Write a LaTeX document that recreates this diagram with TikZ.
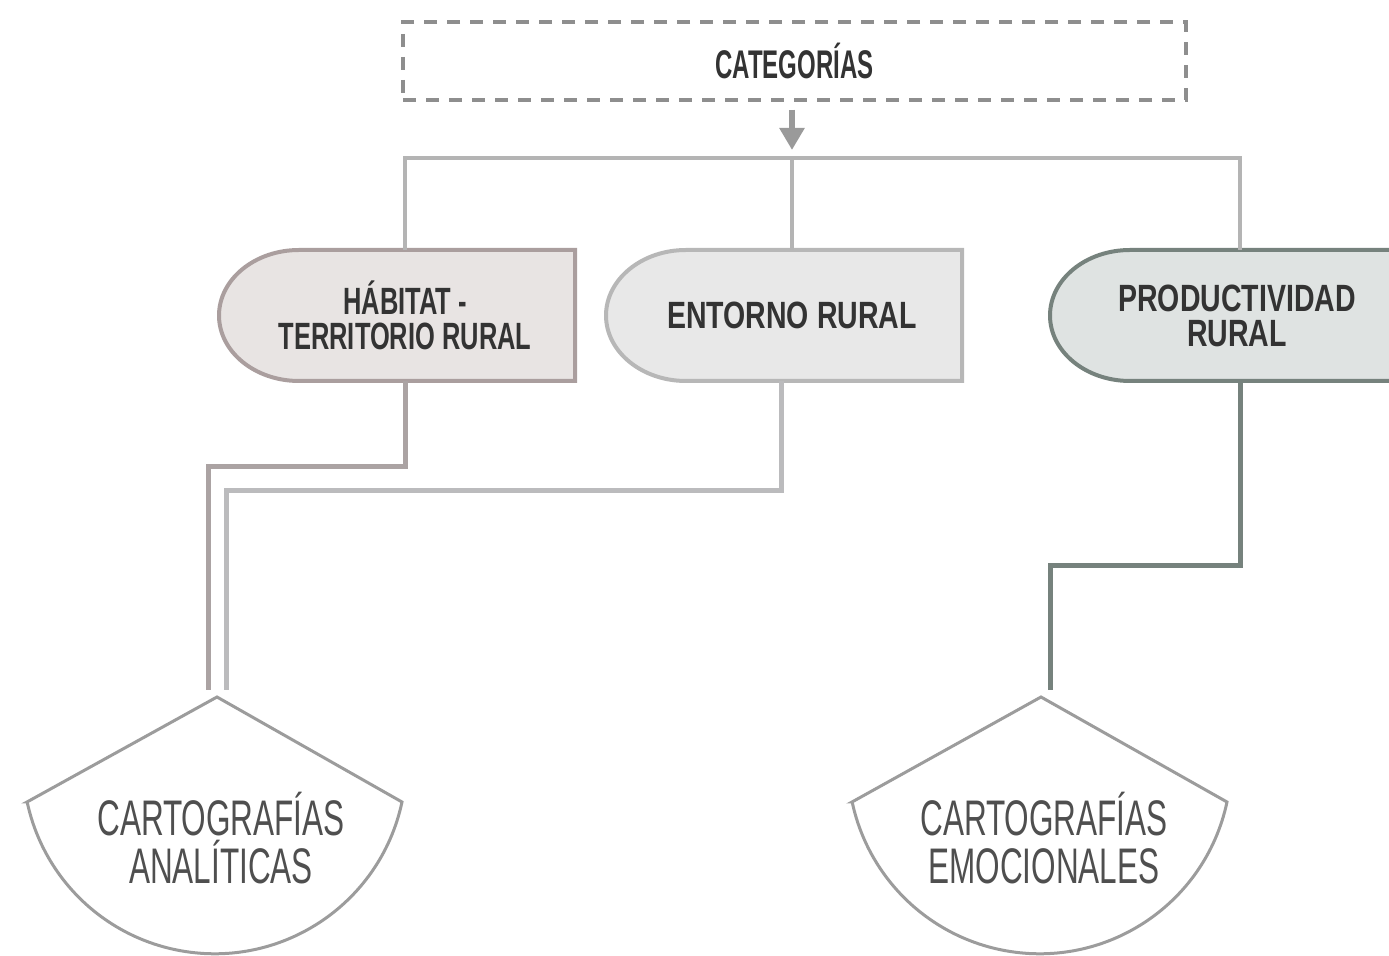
\documentclass[tikz,border=0pt]{standalone}
\usepackage{fontspec}
\setmainfont{Liberation Sans}
\newfontfamily\headfont[FakeStretch=0.67]{Liberation Sans Bold}
\newfontfamily\wideheadfont[FakeStretch=0.75]{Liberation Sans Bold}
\newfontfamily\catfont[FakeStretch=0.6]{Liberation Sans Bold}
\newfontfamily\bodyfont[FakeStretch=0.63]{Liberation Sans}
\usetikzlibrary{arrows.meta,backgrounds}
\definecolor{dashgray}{HTML}{8E8E8E}
\definecolor{textdark}{HTML}{333333}
\definecolor{textmid}{HTML}{4F4F4F}
\definecolor{busgray}{HTML}{B4B4B4}
\definecolor{arrgray}{HTML}{9A9A9A}
\definecolor{habfill}{HTML}{E8E4E3}
\definecolor{habdraw}{HTML}{AA9E9E}
\definecolor{entfill}{HTML}{E8E8E8}
\definecolor{entdraw}{HTML}{B7B7B7}
\definecolor{prodfill}{HTML}{DFE3E2}
\definecolor{proddraw}{HTML}{76827D}
\definecolor{habline}{HTML}{ABA3A3}
\definecolor{entline}{HTML}{BBBBBD}
\definecolor{shielddraw}{HTML}{9C9C9C}
\tikzset{
  catbox/.style={draw=dashgray, line width=1.6pt, dash pattern=on 6.5pt off 5pt,
    minimum width=391.5pt, minimum height=39pt, inner sep=0pt,
    font=\catfont\fontsize{20}{20}\selectfont, text=textdark},
  tab/.style={align=center, minimum height=65.5pt, inner sep=0pt,
    font=\headfont\fontsize{19}{17.5}\selectfont, text=textdark},
  widetab/.style={tab, font=\wideheadfont\fontsize{19}{17.5}\selectfont},
  tabshape/.style={line width=2pt},
  btext/.style={align=center, inner sep=0pt,
    font=\bodyfont\fontsize{25}{24}\selectfont, text=textmid},
  shield/.style={draw=shielddraw, line width=1.5pt, fill=white},
  bus/.style={draw=busgray, line width=2pt},
  arr/.style={draw=arrgray, line width=3pt, -{Triangle[width=12pt,length=11pt]}},
  wire/.style={line width=2.5pt}
}
\begin{document}
\begin{tikzpicture}[x=0.5pt,y=-0.5pt]
\useasboundingbox (0,0) rectangle (1389,956);
\clip (0,0) rectangle (1389,956);

% top category box
\node[catbox] (cat) at (794.5,61) {CATEGORÍAS};

% tab nodes
\node[tab] (hab) at (405,315.5) {HÁBITAT -\\TERRITORIO RURAL};
\node[widetab] (ent) at (792,315.5) {ENTORNO RURAL};
\node[widetab] (prod) at (1237,315.5) {PRODUCTIVIDAD\\RURAL};

\begin{scope}[on background layer]
  \draw[tabshape, fill=habfill, draw=habdraw]
    (575,250) -- (299,250) .. controls (254.8,250) and (219,279.3) .. (219,315.5)
    .. controls (219,351.7) and (254.8,381) .. (299,381) -- (575,381) -- cycle;
  \draw[tabshape, fill=entfill, draw=entdraw]
    (962,250) -- (686,250) .. controls (641.8,250) and (606,279.3) .. (606,315.5)
    .. controls (606,351.7) and (641.8,381) .. (686,381) -- (962,381) -- cycle;
  \draw[tabshape, fill=prodfill, draw=proddraw]
    (1420,250) -- (1130,250) .. controls (1085.8,250) and (1050,279.3) .. (1050,315.5)
    .. controls (1050,351.7) and (1085.8,381) .. (1130,381) -- (1420,381) -- cycle;
\end{scope}

% bus and arrow
\coordinate (bus) at (792,158);
\draw[bus] (hab.north) |- (bus) -| ([xshift=1.5pt]prod.north);
\draw[bus] (bus) -- (ent.north);
\draw[arr] ([yshift=-4pt]cat.south -| bus) -- ([yshift=4pt]bus);

% bottom shapes
\coordinate (anaTop) at (217,697);
\coordinate (emoTop) at (1041,697);
\draw[shield] (27,802) -- (anaTop) -- (402,802)
  arc[start angle=-12, end angle=-168, radius=95.8pt] -- cycle;
\draw[shield] (852,802) -- (emoTop) -- (1227,802)
  arc[start angle=-12, end angle=-168, radius=95.8pt] -- cycle;
\node[btext] (ana) at (221,838) {CARTOGRAFÍAS\\ANALÍTICAS};
\node[btext] (emo) at (1044,838) {CARTOGRAFÍAS\\EMOCIONALES};

% lower connectors
\draw[wire, draw=habline] (hab.south) -- ++(0,85) -| ([xshift=-4.5pt,yshift=3.5pt]anaTop);
\draw[wire, draw=entline] ([xshift=-5.5pt]ent.south) -- ++(0,109) -| ([xshift=4.5pt,yshift=3.5pt]anaTop);
\draw[wire, draw=proddraw] ([xshift=1.5pt]prod.south) -- ++(0,184) -| ([xshift=4.5pt,yshift=3.5pt]emoTop);
\end{tikzpicture}
\end{document}
